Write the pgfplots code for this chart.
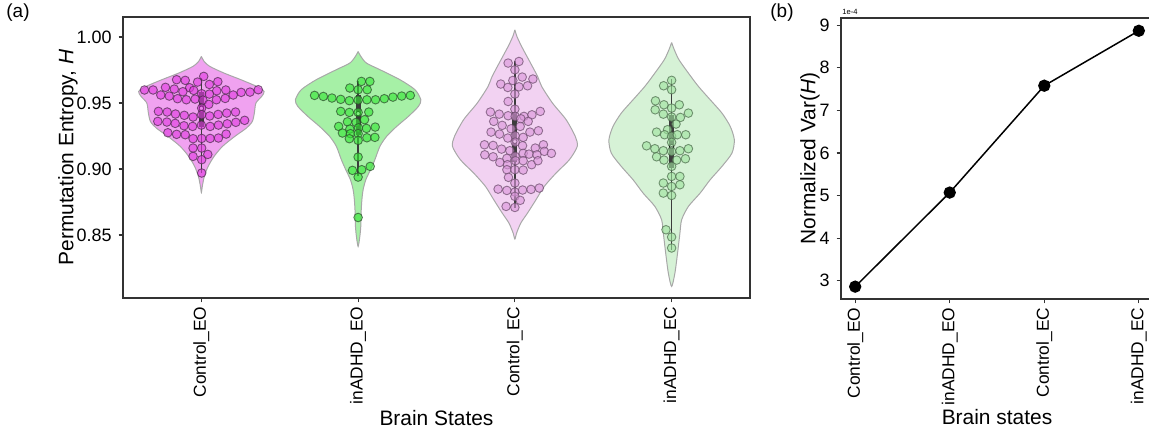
\documentclass[border=0pt]{standalone}
\usepackage{pgfplots}
\usepackage{pgfplotstable}
\pgfplotsset{compat=1.18}
\usepackage{fontspec}
\setmainfont{Liberation Sans}

\definecolor{axisgray}{HTML}{333333}
\definecolor{edgegray}{HTML}{A8A8A8}
\definecolor{boxgray}{HTML}{3C3C3C}
\definecolor{vfillA}{HTML}{F0A2F0}
\definecolor{vfillB}{HTML}{A6F0A6}
\definecolor{vfillC}{HTML}{F2D2F2}
\definecolor{vfillD}{HTML}{D6F2D6}
\definecolor{ptA}{HTML}{E03AE0}
\definecolor{ptB}{HTML}{34E634}
\definecolor{ptC}{HTML}{DA96DA}
\definecolor{ptD}{HTML}{9EE29E}
\definecolor{edA}{HTML}{4A2A4A}
\definecolor{edB}{HTML}{2A4A2A}
\definecolor{edC}{HTML}{6A4A6A}
\definecolor{edD}{HTML}{4A6A4A}

\pgfplotsset{
  panel/.style={
    scale only axis,
    axis line style={axisgray, line width=0.6bp},
    tick align=outside, tick pos=left,
    major tick length=2.2bp,
    every tick/.style={axisgray, line width=0.6bp},
    yticklabel style={font=\fontsize{9}{10.5}\selectfont},
    xticklabel style={font=\fontsize{8.7}{10}\selectfont, rotate=90, anchor=east, inner sep=2bp},
    label style={font=\fontsize{10.5}{12}\selectfont},
    /pgf/number format/assume math mode=true,
    xtick={0,1,2,3},
    xticklabels={Control\_EO,inADHD\_EO,Control\_EC,inADHD\_EC},
  },
  violin/.style={draw=edgegray, line width=0.5bp, smooth, tension=0.45},
  swarm/.style 2 args={only marks, mark=*, mark size=2.15bp,
    mark options={fill=#1, draw=#2, line width=0.45bp, fill opacity=0.62, draw opacity=0.7}},
  whisk/.style={boxgray, line width=0.8bp},
  qbox/.style={boxgray, line width=2.6bp},
  med/.style={only marks, mark=*, mark size=1.1bp, mark options={fill=white, draw=none}},
}

% violin outlines: right half top to bottom, then left half back up
\pgfplotstableread{
dx v
0 0.9854
0.017 0.9816
0.053 0.9778
0.145 0.9727
0.252 0.9677
0.353 0.9626
0.400 0.9588
0.385 0.9551
0.348 0.9500
0.338 0.9424
0.325 0.9361
0.288 0.9311
0.214 0.9248
0.135 0.9172
0.081 0.9096
0.043 0.9020
0.019 0.8945
0.006 0.8869
0 0.8823
-0.006 0.8869
-0.019 0.8945
-0.043 0.9020
-0.081 0.9096
-0.135 0.9172
-0.214 0.9248
-0.288 0.9311
-0.325 0.9361
-0.338 0.9424
-0.348 0.9500
-0.385 0.9551
-0.400 0.9588
-0.353 0.9626
-0.252 0.9677
-0.145 0.9727
-0.053 0.9778
-0.017 0.9816
0 0.9854
}\violA

\pgfplotstableread{
dx v
0 0.9891
0.017 0.9854
0.053 0.9803
0.139 0.9753
0.267 0.9677
0.363 0.9601
0.400 0.9525
0.385 0.9475
0.321 0.9399
0.246 0.9323
0.182 0.9248
0.139 0.9172
0.107 0.9071
0.079 0.8995
0.049 0.8919
0.032 0.8844
0.024 0.8768
0.019 0.8667
0.017 0.8566
0.011 0.8490
0 0.8414
-0.011 0.8490
-0.017 0.8566
-0.019 0.8667
-0.024 0.8768
-0.032 0.8844
-0.049 0.8919
-0.079 0.8995
-0.107 0.9071
-0.139 0.9172
-0.182 0.9248
-0.246 0.9323
-0.321 0.9399
-0.385 0.9475
-0.400 0.9525
-0.363 0.9601
-0.267 0.9677
-0.139 0.9753
-0.053 0.9803
-0.017 0.9854
0 0.9891
}\violB

\pgfplotstableread{
dx v
0 1.0055
0.013 1.0005
0.043 0.9929
0.100 0.9803
0.145 0.9702
0.171 0.9626
0.240 0.9500
0.327 0.9374
0.385 0.9248
0.398 0.9172
0.348 0.9071
0.263 0.8970
0.188 0.8869
0.135 0.8768
0.081 0.8667
0.038 0.8591
0.011 0.8515
0 0.8470
-0.011 0.8515
-0.038 0.8591
-0.081 0.8667
-0.135 0.8768
-0.188 0.8869
-0.263 0.8970
-0.348 0.9071
-0.398 0.9172
-0.385 0.9248
-0.327 0.9374
-0.240 0.9500
-0.171 0.9626
-0.145 0.9702
-0.100 0.9803
-0.043 0.9929
-0.013 1.0005
0 1.0055
}\violC

\pgfplotstableread{
dx v
0 0.9959
0.017 0.9904
0.047 0.9828
0.107 0.9727
0.171 0.9626
0.246 0.9525
0.321 0.9424
0.374 0.9323
0.400 0.9222
0.385 0.9121
0.321 0.9020
0.246 0.8919
0.182 0.8818
0.107 0.8717
0.064 0.8616
0.053 0.8515
0.038 0.8364
0.021 0.8212
0 0.8111
-0.021 0.8212
-0.038 0.8364
-0.053 0.8515
-0.064 0.8616
-0.107 0.8717
-0.182 0.8818
-0.246 0.8919
-0.321 0.9020
-0.385 0.9121
-0.400 0.9222
-0.374 0.9323
-0.321 0.9424
-0.246 0.9525
-0.171 0.9626
-0.107 0.9727
-0.047 0.9828
-0.017 0.9904
0 0.9959
}\violD

% individual subjects (dx = swarm offset from the category centre)
\pgfplotstableread{
dx v
0.015 0.9702
-0.158 0.9677
-0.103 0.9672
-0.024 0.9659
0.105 0.9662
0.051 0.9641
-0.229 0.9619
-0.075 0.9616
-0.363 0.9599
-0.308 0.9599
-0.173 0.9606
-0.118 0.9586
-0.049 0.9596
0.098 0.9593
0.156 0.9599
0.254 0.9581
0.310 0.9583
0.363 0.9601
0.002 0.9571
0.051 0.9568
0.203 0.9561
-0.259 0.9561
-0.205 0.9553
-0.152 0.9533
-0.096 0.9525
-0.040 0.9530
0.010 0.9522
0.096 0.9525
0.152 0.9535
0.047 0.9490
0.002 0.9462
-0.274 0.9437
-0.218 0.9432
-0.165 0.9417
-0.109 0.9407
-0.053 0.9394
0.002 0.9412
0.053 0.9402
0.107 0.9414
0.162 0.9424
0.218 0.9432
-0.278 0.9361
-0.220 0.9356
-0.167 0.9346
-0.111 0.9328
-0.056 0.9323
0.000 0.9333
0.056 0.9323
0.109 0.9333
0.165 0.9343
0.220 0.9354
0.276 0.9369
-0.214 0.9275
-0.158 0.9263
-0.103 0.9260
-0.053 0.9230
0.002 0.9232
0.056 0.9232
0.109 0.9235
0.158 0.9265
-0.053 0.9159
0.002 0.9159
-0.053 0.9096
0.002 0.9071
0.041 0.9111
0.002 0.8970
}\swA

\pgfplotstableread{
dx v
0.021 0.9664
0.075 0.9664
-0.053 0.9614
0.000 0.9601
0.058 0.9601
-0.278 0.9558
-0.222 0.9550
-0.167 0.9538
-0.111 0.9528
-0.056 0.9518
0.000 0.9523
0.056 0.9525
0.111 0.9525
0.167 0.9533
0.222 0.9545
0.278 0.9553
0.333 0.9558
-0.111 0.9437
-0.056 0.9429
0.000 0.9429
0.068 0.9432
-0.068 0.9358
-0.013 0.9353
0.041 0.9374
-0.124 0.9323
-0.053 0.9303
0.002 0.9312
0.053 0.9308
0.109 0.9318
-0.100 0.9273
-0.049 0.9268
0.000 0.9268
0.056 0.9237
0.107 0.9240
-0.056 0.9230
0.000 0.9217
0.000 0.9091
-0.036 0.8990
0.023 0.8995
0.077 0.9020
0.000 0.8939
0.000 0.8633
}\swB

\pgfplotstableread{
dx v
-0.043 0.9803
0.026 0.9815
0.000 0.9752
0.047 0.9697
0.115 0.9682
-0.013 0.9671
-0.090 0.9644
-0.045 0.9618
0.026 0.9623
0.081 0.9631
0.000 0.9568
-0.043 0.9512
0.000 0.9454
-0.156 0.9432
-0.100 0.9416
-0.043 0.9404
0.002 0.9399
0.058 0.9399
0.109 0.9411
0.162 0.9437
-0.135 0.9361
-0.081 0.9331
-0.024 0.9305
0.038 0.9381
0.085 0.9361
0.034 0.9323
-0.152 0.9280
-0.098 0.9265
-0.045 0.9235
0.002 0.9252
0.053 0.9240
0.096 0.9280
0.150 0.9290
-0.194 0.9184
-0.139 0.9179
-0.085 0.9151
-0.032 0.9139
0.002 0.9204
0.049 0.9177
0.130 0.9159
0.182 0.9184
-0.192 0.9108
-0.139 0.9093
-0.051 0.9081
0.002 0.9096
0.053 0.9119
0.090 0.9113
0.141 0.9108
0.188 0.9134
0.233 0.9119
-0.096 0.9050
-0.047 0.9033
0.004 0.9063
0.053 0.9063
0.107 0.9033
0.147 0.9063
-0.051 0.8995
0.000 0.8995
0.053 0.8992
-0.041 0.8937
0.000 0.8894
-0.107 0.8848
-0.051 0.8838
0.000 0.8826
0.049 0.8841
0.103 0.8846
0.156 0.8856
0.000 0.8793
0.034 0.8763
-0.056 0.8717
0.000 0.8709
}\swC

\pgfplotstableread{
dx v
0.000 0.9672
-0.051 0.9631
0.000 0.9601
-0.103 0.9517
-0.049 0.9487
0.000 0.9462
0.049 0.9487
-0.105 0.9449
-0.053 0.9416
0.000 0.9394
0.056 0.9391
0.107 0.9424
0.028 0.9341
-0.026 0.9298
-0.096 0.9280
-0.045 0.9260
0.000 0.9248
0.036 0.9260
0.090 0.9260
0.000 0.9202
-0.160 0.9176
-0.107 0.9154
-0.053 0.9139
0.000 0.9134
0.053 0.9139
0.107 0.9154
-0.096 0.9093
-0.049 0.9068
0.032 0.9068
0.088 0.9078
0.000 0.9020
0.000 0.8944
0.053 0.8944
-0.053 0.8894
0.000 0.8868
0.053 0.8881
-0.053 0.8818
0.000 0.8800
-0.036 0.8540
0.000 0.8485
0.000 0.8402
}\swD

\begin{document}
\begin{tikzpicture}
\useasboundingbox (0,0) rectangle (574.5bp,-217.5bp);

\node[font=\fontsize{9.5}{11}\selectfont] at (9bp,-6.5bp) {(a)};
\node[font=\fontsize{9.5}{11}\selectfont] at (391bp,-6.5bp) {(b)};

% (a) distribution of permutation entropy per brain state
\begin{axis}[panel,
  at={(61.5bp,-8.5bp)}, anchor=north west,
  width=313.5bp, height=140.5bp,
  xmin=-0.5, xmax=3.5,
  ymin=0.8023, ymax=1.0152,
  ytick={0.85,0.90,0.95,1.00},
  yticklabel style={/pgf/number format/fixed, /pgf/number format/precision=2,
    /pgf/number format/fixed zerofill},
  xlabel={Brain States},
  ylabel={Permutation Entropy, \textit{H}},
  xlabel style={at={(axis description cs:0.5,-0.427)}, anchor=center},
  ylabel style={at={(axis description cs:-0.0877,0.5)}, anchor=center},
]
\addplot[violin, fill=vfillA] table[x expr=\thisrow{dx}+0, y=v] {\violA};
\addplot[whisk] coordinates {(0,0.897) (0,0.969)};
\addplot[qbox] coordinates {(0,0.932) (0,0.958)};
\addplot[med] coordinates {(0,0.946)};

\addplot[violin, fill=vfillB] table[x expr=\thisrow{dx}+1, y=v] {\violB};
\addplot[whisk] coordinates {(1,0.8945) (1,0.967)};
\addplot[qbox] coordinates {(1,0.926) (1,0.956)};
\addplot[med] coordinates {(1,0.942)};

\addplot[violin, fill=vfillC] table[x expr=\thisrow{dx}+2, y=v] {\violC};
\addplot[whisk] coordinates {(2,0.8705) (2,0.9815)};
\addplot[qbox] coordinates {(2,0.905) (2,0.943)};
\addplot[med] coordinates {(2,0.921)};

\addplot[violin, fill=vfillD] table[x expr=\thisrow{dx}+3, y=v] {\violD};
\addplot[whisk] coordinates {(3,0.839) (3,0.968)};
\addplot[qbox] coordinates {(3,0.901) (3,0.941)};
\addplot[med] coordinates {(3,0.917)};

\addplot[swarm={ptA}{edA}] table[x expr=\thisrow{dx}+0, y=v] {\swA};
\addplot[swarm={ptB}{edB}] table[x expr=\thisrow{dx}+1, y=v] {\swB};
\addplot[swarm={ptC}{edC}] table[x expr=\thisrow{dx}+2, y=v] {\swC};
\addplot[swarm={ptD}{edD}] table[x expr=\thisrow{dx}+3, y=v] {\swD};
\end{axis}

% (b) normalized variance of H
\begin{axis}[panel,
  at={(420.5bp,-9bp)}, anchor=north west,
  width=156bp, height=140.5bp,
  xmin=-0.15, xmax=3.15,
  ymin=2.57, ymax=9.17,
  ytick={3,4,5,6,7,8,9},
  xlabel={Brain states},
  ylabel={Normalized Var(\textit{H})},
  xlabel style={at={(axis description cs:0.5,-0.42)}, anchor=center},
  ylabel style={at={(axis description cs:-0.0994,0.5)}, anchor=center},
]
\addplot[black, line width=0.75bp, mark=*, mark size=2.7bp]
  coordinates {(0,2.86) (1,5.07) (2,7.58) (3,8.87)};
\end{axis}
\node[anchor=south west, inner sep=0pt, font=\fontsize{3.8}{4}\selectfont] at (421bp,-7.6bp) {1e-4};
\end{tikzpicture}
\end{document}
